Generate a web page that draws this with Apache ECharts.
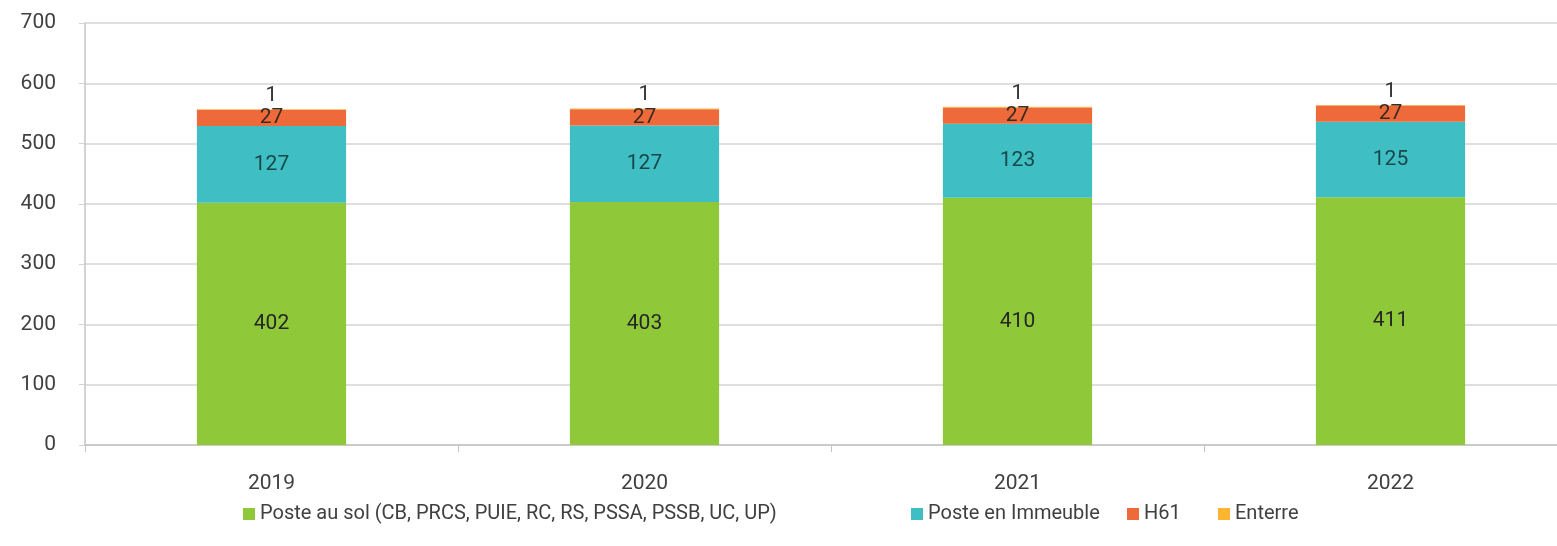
<!DOCTYPE html>
<html>
<head>
<meta charset="utf-8">
<script src="https://cdn.jsdelivr.net/npm/echarts@6/dist/echarts.min.js"></script>
<style>
  html, body { margin: 0; padding: 0; background: #ffffff; overflow: hidden; }
  /* the plot runs slightly past the right edge of the window */
  #chart { width: 1580px; height: 546px; }
</style>
</head>
<body>
<div id="chart"></div>
<script>
// Number of substations by type, per year
const years = ['2019', '2020', '2021', '2022'];
const posteAuSol = [402, 403, 410, 411];
const posteImmeuble = [127, 127, 123, 125];
const h61 = [27, 27, 27, 27];
const enterre = [1, 1, 1, 1];
const yTicks = { min: 0, max: 700, interval: 100 };

const seriesNames = [
  'Poste au sol (CB, PRCS, PUIE, RC, RS, PSSA, PSSB, UC, UP)',
  'Poste en Immeuble',
  'H61',
  'Enterre'
];
const colors = ['#8fc93a', '#3fbfc3', '#ee6a3a', '#fbb530'];
const fontFamily = 'Roboto, "Liberation Sans", Arial, sans-serif';

function barSeries(name, data, color, labelColor, pos) {
  return {
    name: name,
    type: 'bar',
    stack: 'total',
    data: data,
    barWidth: '40%',
    itemStyle: { color: color },
    label: {
      show: true,
      position: pos,
      distance: 3,
      color: labelColor,
      fontSize: 21,
      fontFamily: fontFamily
    }
  };
}

// one legend block per series so each entry sits at its own spot
const legendLeft = [238, 906, 1122, 1213];
const legends = seriesNames.map((name, i) => ({
  data: [name],
  left: legendLeft[i],
  top: 499,
  itemWidth: 12,
  itemHeight: 12,
  itemGap: 8,
  icon: 'rect',
  textStyle: { fontSize: 20, color: '#404040', fontFamily: fontFamily }
}));

const chart = echarts.init(document.getElementById('chart'), null, { renderer: 'canvas' });
chart.setOption({
  animation: false,
  color: colors,
  grid: { left: 85, right: 3, top: 23, bottom: 101, containLabel: false },
  legend: legends,
  xAxis: {
    type: 'category',
    data: years,
    axisLine: { lineStyle: { color: '#c4c4c4', width: 1.5 } },
    axisTick: { show: true, length: 7, lineStyle: { color: '#c4c4c4' } },
    axisLabel: { fontSize: 21, color: '#404040', margin: 28, fontFamily: fontFamily }
  },
  yAxis: {
    type: 'value',
    min: yTicks.min,
    max: yTicks.max,
    interval: yTicks.interval,
    axisLine: { show: true, lineStyle: { color: '#c4c4c4', width: 1.5 } },
    axisTick: { show: true, length: 6, lineStyle: { color: '#d4d4d4' } },
    splitLine: { lineStyle: { color: '#d4d4d4', width: 1.5 } },
    axisLabel: { fontSize: 21, color: '#404040', margin: 29, fontFamily: fontFamily }
  },
  series: [
    barSeries(seriesNames[0], posteAuSol, colors[0], '#262626', 'inside'),
    barSeries(seriesNames[1], posteImmeuble, colors[1], '#17484a', 'inside'),
    barSeries(seriesNames[2], h61, colors[2], '#3a2a20', 'inside'),
    barSeries(seriesNames[3], enterre, colors[3], '#333333', 'top')
  ]
});
</script>
</body>
</html>
